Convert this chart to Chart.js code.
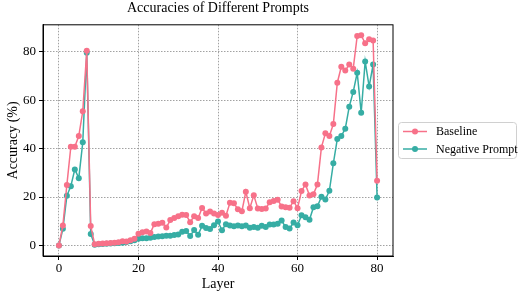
<!DOCTYPE html>
<html>
<head>
<meta charset="utf-8">
<script src="https://cdn.jsdelivr.net/npm/chart.js@4"></script>
<style>
  html, body { margin: 0; padding: 0; background: #fff; }
  #wrap { width: 518px; height: 298px; }
</style>
</head>
<body>
<div id="wrap"><canvas id="acc"></canvas></div>
<script>
const layers = [0,1,2,3,4,5,6,7,8,9,10,11,12,13,14,15,16,17,18,19,20,21,22,23,24,25,26,27,28,29,30,
  31,32,33,34,35,36,37,38,39,40,41,42,43,44,45,46,47,48,49,50,51,52,53,54,55,56,57,58,59,60,
  61,62,63,64,65,66,67,68,69,70,71,72,73,74,75,76,77,78,79,80]

const baseline = [0,8.3,25,40.8,40.8,45.2,55.4,80.4,8,0.5,0.7,0.8,0.9,1.0,1.1,1.3,1.8,1.6,2.2,2.8,
  4.8,5.5,5.8,5.2,8.8,9,9.4,7.4,10.5,11.3,12.1,12.7,12.6,9.6,12.1,11.3,15.5,13.2,14,13.2,
  12.6,13.5,12.3,17.6,17.4,15,14.1,22.2,15.4,20.7,15.3,15.1,15.3,17.8,18.4,18.9,16.1,15.8,15.6,18.3,
  15.4,22.5,25.2,20.6,21.2,25.2,40.5,46.3,45.2,50.1,67.2,73.8,72.2,74.7,73,86.5,86.8,83.5,85.1,84.6,
  26.7]

const negativePrompt = [0,6.9,20.5,24.5,31.4,27.8,42.6,79.6,4.7,0.3,0.5,0.6,0.7,0.8,0.9,1.0,1.1,1.4,1.8,2.2,
  2.8,3.0,3.0,3.2,3.5,3.7,3.8,4.0,4.0,4.3,4.5,5.7,6.0,3.9,6.4,4.4,8.1,7.2,6.8,8.4,
  9.9,6.3,8.8,8.2,7.9,8.2,7.9,8.2,7.3,7.6,7.3,8.1,7.6,8.7,8.7,9,10.3,7.6,7,9.5,
  8.4,12.5,11.7,10.6,15.8,16.2,20.1,19,22.6,33.9,44,45.2,48.2,57.3,63.4,71.3,54.8,76,65.6,74.7,
  19.8]

const xTicks = [0, 20, 40, 60, 80]
const yTicks = [0, 20, 40, 60, 80]

const PINK = '#f77189'
const TEAL = '#36ada4'
const SERIF = "'Liberation Serif', 'DejaVu Serif', serif"

// box round the plot and the legend at the right
const framePlugin = {
  id: 'frame',
  afterDraw(chart) {
    const {ctx, chartArea: a} = chart
    ctx.save()
    ctx.strokeStyle = '#000'
    ctx.lineWidth = 1
    ctx.strokeRect(a.left, a.top, a.right - a.left, a.bottom - a.top)

    // legend
    const x0 = 398.5, y0 = 122.5, w = 118, h = 36, r = 3
    ctx.beginPath()
    ctx.moveTo(x0 + r, y0)
    ctx.arcTo(x0 + w, y0, x0 + w, y0 + h, r)
    ctx.arcTo(x0 + w, y0 + h, x0, y0 + h, r)
    ctx.arcTo(x0, y0 + h, x0, y0, r)
    ctx.arcTo(x0, y0, x0 + w, y0, r)
    ctx.closePath()
    ctx.fillStyle = 'rgba(255,255,255,0.8)'
    ctx.fill()
    ctx.strokeStyle = '#d0d0d0'
    ctx.stroke()

    ctx.font = '12px ' + SERIF
    ctx.textBaseline = 'middle'
    chart.data.datasets.forEach((ds, i) => {
      const yy = 131.5 + i * 17.5
      ctx.strokeStyle = ds.borderColor
      ctx.lineWidth = 1.5
      ctx.beginPath()
      ctx.moveTo(403, yy)
      ctx.lineTo(427, yy)
      ctx.stroke()
      ctx.fillStyle = ds.borderColor
      ctx.beginPath()
      ctx.arc(415, yy, 3, 0, Math.PI * 2)
      ctx.fill()
      ctx.fillStyle = '#000'
      ctx.fillText(ds.label, 436, yy + 0.5)
    })
    ctx.restore()
  }
}

const data = {
  datasets: [{
    label: 'Baseline',
    data: layers.map((l, i) => ({x: l, y: baseline[i]})),
    borderColor: PINK,
    backgroundColor: PINK,
    borderWidth: 1.5,
    pointRadius: 3,
    pointBorderWidth: 0,
    tension: 0
  },
  {
    label: 'Negative Prompt',
    data: layers.map((l, i) => ({x: l, y: negativePrompt[i]})),
    borderColor: TEAL,
    backgroundColor: TEAL,
    borderWidth: 1.5,
    pointRadius: 3,
    pointBorderWidth: 0,
    tension: 0
  }]
}

new Chart(document.getElementById('acc'), {
  type: 'line',
  data: data,
  options: {
    responsive: true,
    maintainAspectRatio: false,
    animation: false,
    events: [],
    layout: { padding: { top: 0, right: 125, left: 0, bottom: 0 } },
    plugins: {
      legend: { display: false },
      tooltip: { enabled: false },
      title: {
        display: true,
        text: 'Accuracies of Different Prompts',
        fullSize: false,
        color: '#000',
        font: { family: SERIF, size: 14, weight: 'normal' },
        padding: { top: 0, bottom: 8 }
      }
    },
    scales: {
      x: {
        type: 'linear',
        min: -4,
        max: 84,
        afterBuildTicks: s => { s.ticks = xTicks.map(v => ({value: v})) },
        afterFit: s => { s.height = 42 },
        ticks: { color: '#000', font: { family: SERIF, size: 13 }, padding: 1, maxRotation: 0 },
        grid: { color: '#8a8a8a', lineWidth: 0.8, tickLength: 4, tickColor: '#000', tickWidth: 1 },
        border: { display: true, color: '#000', width: 1, dash: [1.5, 1.5] },
        title: { display: true, text: 'Layer', color: '#000', font: { family: SERIF, size: 14 }, padding: { top: 0, bottom: 5 } }
      },
      y: {
        min: -4.34,
        max: 91.1,
        afterBuildTicks: s => { s.ticks = yTicks.map(v => ({value: v})) },
        afterFit: s => { s.width = 43 },
        ticks: { color: '#000', font: { family: SERIF, size: 13 }, padding: 3 },
        grid: { color: '#8a8a8a', lineWidth: 0.8, tickLength: 4, tickColor: '#000', tickWidth: 1 },
        border: { display: true, color: '#000', width: 1, dash: [1.5, 1.5] },
        title: { display: true, text: 'Accuracy (%)', color: '#000', font: { family: SERIF, size: 14 }, padding: { top: 5, bottom: 0 } }
      }
    }
  },
  plugins: [framePlugin]
})
</script>
</body>
</html>
